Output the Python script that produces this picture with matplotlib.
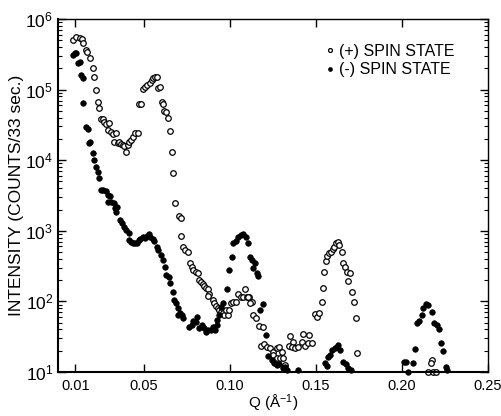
import numpy as np
import matplotlib
matplotlib.use("Agg")
import matplotlib.pyplot as plt
from matplotlib.ticker import LogLocator, FixedLocator, NullFormatter

# (+) spin state, open circles
q_plus = [0.0087, 0.0106, 0.0125, 0.0139, 0.0148, 0.0164, 0.0171, 0.0187, 0.0203, 0.0212,
          0.0222, 0.0230, 0.0241, 0.0249, 0.0261, 0.0270, 0.0280, 0.0299, 0.0290, 0.0309,
          0.0319, 0.0338, 0.0327, 0.0346, 0.0357, 0.0367, 0.0377, 0.0386, 0.0396, 0.0406,
          0.0415, 0.0425, 0.0435, 0.0449, 0.0464, 0.0468, 0.0483, 0.0493, 0.0503, 0.0517,
          0.0532, 0.0546, 0.0555, 0.0565, 0.0575, 0.0580, 0.0594, 0.0604, 0.0610, 0.0617,
          0.0629, 0.0639, 0.0652, 0.0662, 0.0671, 0.0681, 0.0706, 0.0716, 0.0716, 0.0726,
          0.0741, 0.0758, 0.0768, 0.0778, 0.0787, 0.0803, 0.0813, 0.0822, 0.0832, 0.0842,
          0.0851, 0.0861, 0.0871, 0.0880, 0.0871, 0.0900, 0.0909, 0.0919, 0.0929, 0.0938,
          0.0948, 0.0958, 0.0966, 0.0977, 0.0989, 0.0997, 0.1006, 0.1020, 0.1035, 0.1049,
          0.1064, 0.1078, 0.1089, 0.1101, 0.1113, 0.1107, 0.1127, 0.1117, 0.1136, 0.1152,
          0.1171, 0.1191, 0.1179, 0.1198, 0.1217, 0.1233, 0.1252, 0.1272, 0.1287, 0.1301,
          0.1252, 0.1272, 0.1291, 0.1310, 0.1320, 0.1349, 0.1368, 0.1345, 0.1359, 0.1378,
          0.1397, 0.1417, 0.1423, 0.1436, 0.1461, 0.1456, 0.1475, 0.1494, 0.1508, 0.1519,
          0.1533, 0.1543, 0.1548, 0.1558, 0.1566, 0.1577, 0.1587, 0.1597, 0.1607, 0.1616,
          0.1630, 0.1636, 0.1650, 0.1659, 0.1669, 0.1679, 0.1698, 0.1688, 0.1711, 0.1721,
          0.1731, 0.1737, 0.2172, 0.2168, 0.2153, 0.2178, 0.2197]
i_plus = [5.05e5, 5.5e5, 5.3e5, 5.15e5, 4.5e5, 3.6e5, 3.45e5, 2.8e5, 2.0e5, 1.49e5,
          9.9e4, 6.7e4, 5.5e4, 3.8e4, 3.8e4, 3.5e4, 3.3e4, 3.4e4, 2.7e4, 2.5e4,
          2.35e4, 2.45e4, 1.83e4, 1.73e4, 1.83e4, 1.69e4, 1.64e4, 1.6e4, 1.3e4, 1.64e4,
          1.83e4, 1.93e4, 2.15e4, 2.4e4, 2.45e4, 6.25e4, 6.25e4, 1.01e5, 1.1e5, 1.16e5,
          1.23e5, 1.37e5, 1.48e5, 1.49e5, 1.52e5, 1.04e5, 1.1e5, 6.7e4, 6.2e4, 5.0e4,
          4.8e4, 4.0e4, 2.6e4, 1.32e4, 6.65e3, 2.45e3, 1.62e3, 1.53e3, 840, 580,
          535, 495, 347, 304, 279, 264, 255, 201, 190, 176,
          165, 153, 148, 126, 119, 105, 94, 86, 80, 75.5,
          71.5, 67.8, 64, 75.5, 64, 75.5, 96, 99, 99, 126,
          117, 117, 148, 117, 117, 114, 99, 94, 64, 58.7,
          44.9, 43.8, 23.6, 24.9, 22.8, 21.7, 19.4, 21.7, 22.8, 19.4,
          17.4, 15.6, 16, 15.6, 12.6, 32.4, 26.9, 23.3, 22.8, 21.7,
          22.8, 26.9, 34.2, 23.6, 33.1, 26, 26, 66.4, 60.7, 69.2,
          99, 156, 264, 373, 440, 480, 506, 547, 596, 678,
          700, 630, 495, 353, 310, 264, 255, 196, 137, 99,
          57.7, 18.4, 14.8, 13.3, 10.1, 10.1, 10.1]

# (-) spin state, filled circles
q_minus = [0.0090, 0.0100, 0.0106, 0.0116, 0.0125, 0.0135, 0.0145, 0.0148, 0.0164, 0.0174,
           0.0183, 0.0187, 0.0203, 0.0212, 0.0222, 0.0232, 0.0241, 0.0251, 0.0264, 0.0280,
           0.0290, 0.0303, 0.0293, 0.0309, 0.0323, 0.0342, 0.0332, 0.0338, 0.0361, 0.0371,
           0.0385, 0.0396, 0.0410, 0.0415, 0.0425, 0.0435, 0.0449, 0.0458, 0.0468, 0.0478,
           0.0493, 0.0507, 0.0517, 0.0530, 0.0536, 0.0551, 0.0559, 0.0575, 0.0584, 0.0600,
           0.0613, 0.0623, 0.0629, 0.0648, 0.0652, 0.0668, 0.0675, 0.0687, 0.0700, 0.0710,
           0.0720, 0.0700, 0.0729, 0.0764, 0.0778, 0.0787, 0.0803, 0.0807, 0.0822, 0.0836,
           0.0850, 0.0861, 0.0874, 0.0888, 0.0904, 0.0913, 0.0923, 0.0923, 0.0938, 0.0948,
           0.0958, 0.0985, 0.0997, 0.1010, 0.1020, 0.1035, 0.1049, 0.1064, 0.1078, 0.1094,
           0.1103, 0.1117, 0.1127, 0.1146, 0.1136, 0.1156, 0.1165, 0.1191, 0.1175, 0.1210,
           0.1220, 0.1243, 0.1256, 0.1272, 0.1287, 0.1307, 0.1320, 0.1330, 0.1397, 0.1553,
           0.1562, 0.1572, 0.1582, 0.1591, 0.1611, 0.1620, 0.1630, 0.1640, 0.1659, 0.1675,
           0.1688, 0.1704, 0.2013, 0.2021, 0.2036, 0.2066, 0.2075, 0.2085, 0.2100, 0.2114,
           0.2124, 0.2138, 0.2153, 0.2172, 0.2186, 0.2201, 0.2215, 0.2226, 0.2240, 0.2256,
           0.2263]
i_minus = [3.09e5, 3.27e5, 3.33e5, 2.36e5, 2.49e5, 1.61e5, 1.45e5, 6.5e4, 2.98e4, 2.74e4,
           1.73e4, 1.83e4, 1.25e4, 1.0e4, 8.1e3, 6.9e3, 5.55e3, 3.78e3, 3.78e3, 3.7e3,
           3.21e3, 3.14e3, 2.58e3, 2.53e3, 2.5e3, 2.19e3, 2.08e3, 1.87e3, 1.42e3, 1.3e3,
           1.14e3, 1.03e3, 920, 740, 700, 680, 665, 680, 740, 760,
           825, 780, 840, 890, 810, 760, 725, 584, 535, 454,
           386, 310, 237, 224, 180, 137, 105, 96, 80, 67.8,
           64, 64, 57.7, 43, 46.4, 53.3, 51.6, 60.7, 41.6, 46.4,
           41.6, 37.2, 39.4, 39.4, 43.8, 39.4, 46.4, 54.6, 64, 82.4,
           94, 148, 279, 422, 665, 725, 825, 870, 900, 825,
           680, 430, 386, 347, 295, 250, 229, 91.9, 75.5, 33.4,
           16.9, 14.8, 13.3, 12.6, 13, 11.3, 11.9, 10.7, 10.7, 13.3,
           12.3, 16.5, 17.4, 20.5, 21.7, 22.8, 24.1, 20.5, 14, 12.9,
           11.3, 10.7, 13.7, 14, 10.1, 13.3, 21, 49.9, 53.3, 64,
           80, 92, 89, 70, 49, 46.4, 40.3, 25.5, 19.8, 11.9,
           10.7]

x_ticks = [0.01, 0.05, 0.10, 0.15, 0.20, 0.25]
x_ticklabels = ["0.01", "0.05", "0.10", "0.15", "0.20", "0.25"]

plt.rcParams['font.family'] = ['Liberation Sans', 'DejaVu Sans']
plt.rcParams['mathtext.default'] = 'regular'

fig = plt.figure(figsize=(5.01, 4.16), dpi=100)
ax = fig.add_axes([0.1158, 0.1058, 0.8582, 0.8486])

ax.plot(q_plus, i_plus, linestyle='none', marker='o', markersize=4.0,
        markerfacecolor='white', markeredgecolor='black', markeredgewidth=0.9,
        label='(+) SPIN STATE', clip_on=False)
ax.plot(q_minus, i_minus, linestyle='none', marker='o', markersize=4.0,
        markerfacecolor='black', markeredgecolor='black', markeredgewidth=0.5,
        label='(-) SPIN STATE', clip_on=False)

ax.set_yscale('log')
ax.set_xlim(0.0, 0.25)
ax.set_ylim(10, 1e6)
ax.xaxis.set_major_locator(FixedLocator(x_ticks))
ax.set_xticklabels(x_ticklabels)
ax.yaxis.set_major_locator(LogLocator(base=10, numticks=10))
ax.yaxis.set_minor_locator(LogLocator(base=10, subs=np.arange(2, 10), numticks=20))
ax.yaxis.set_minor_formatter(NullFormatter())

ax.tick_params(which='both', direction='in', top=True, right=True, labelsize=12.5)
ax.tick_params(axis='x', labelsize=10.5, pad=5)
ax.tick_params(which='major', length=6, width=1.0)
ax.tick_params(which='minor', length=3, width=0.8)

for side in ['left', 'bottom']:
    ax.spines[side].set_linewidth(1.5)
for side in ['top', 'right']:
    ax.spines[side].set_linewidth(1.0)

ax.set_xlabel('Q (Å$^{-1}$)', fontsize=11, labelpad=0)
ax.set_ylabel('INTENSITY (COUNTS/33 sec.)', fontsize=12.5, labelpad=1)

ax.legend(loc='upper right', bbox_to_anchor=(0.955, 0.97), frameon=False, fontsize=11.5,
          handlelength=0.5, handletextpad=0.3, markerscale=0.7, labelspacing=0.2)

fig.savefig('out.png', dpi=100)
